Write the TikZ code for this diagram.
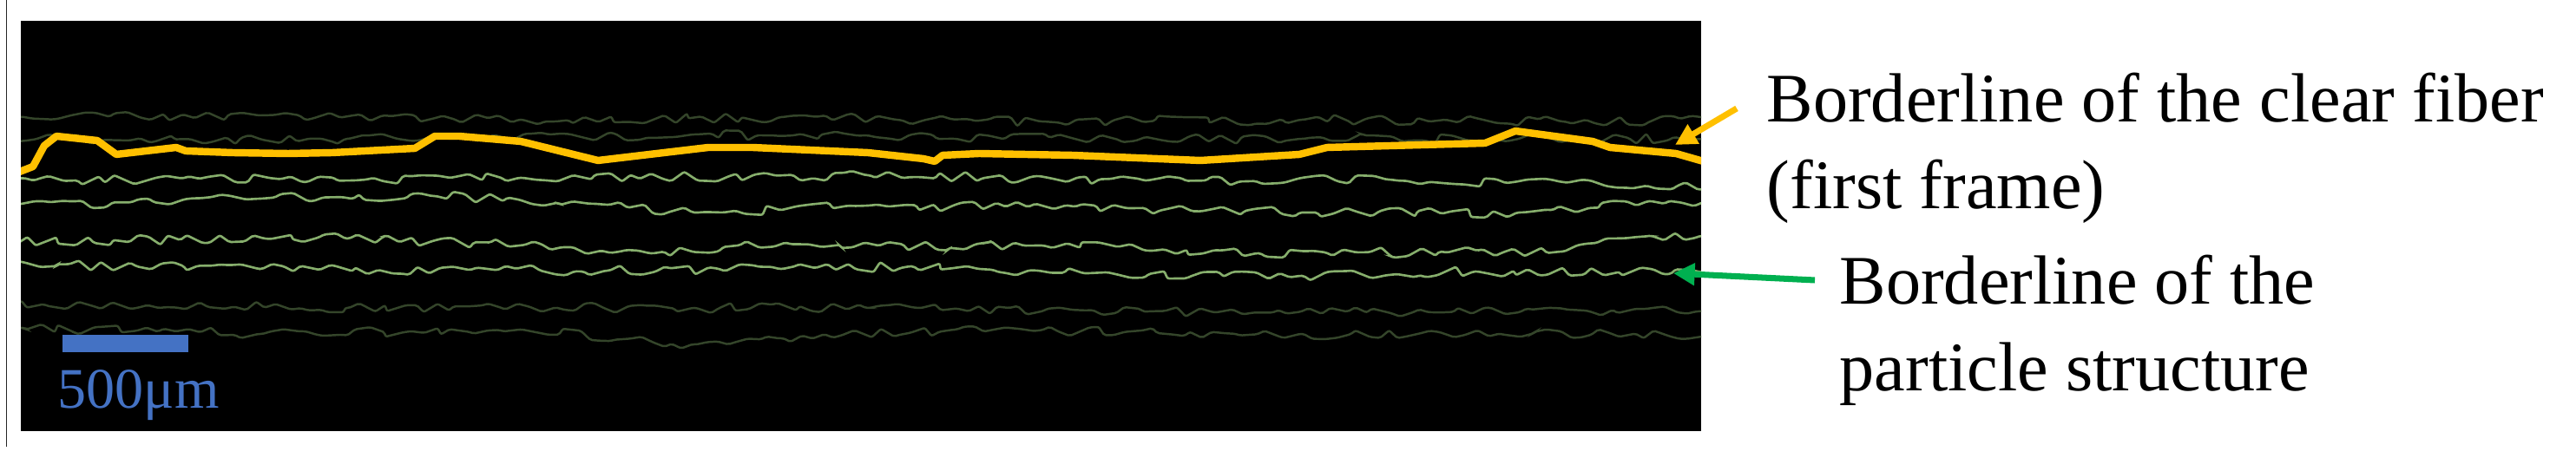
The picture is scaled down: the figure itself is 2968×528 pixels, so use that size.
\documentclass[tikz,border=0pt]{standalone}
\usepackage{fontspec}
\setmainfont{Liberation Serif}
\usetikzlibrary{arrows.meta,decorations.pathmorphing}
\definecolor{fibery}{HTML}{FFC000}
\definecolor{brightg}{HTML}{86AE6C}
\definecolor{dimg}{HTML}{34452A}
\definecolor{arrowg}{HTML}{00B050}
\definecolor{barblue}{HTML}{4472C4}
\tikzset{
  noisy/.style={decorate,decoration={random steps,segment length=3.5pt,amplitude=1.7pt},rounded corners=0.6pt},
  brightline/.style={noisy,draw=brightg,line width=0.75pt},
  dimline/.style={noisy,draw=dimg,line width=0.7pt},
  fiberline/.style={draw=fibery,line width=2.4pt,line join=round},
  callout/.style={line width=2pt,-{Triangle[length=7pt,width=7pt]}},
  label/.style={font=\fontsize{22.8pt}{28.45pt}\selectfont,anchor=base west,inner sep=0pt,align=left},
}
\begin{document}
\begin{tikzpicture}[x=0.01cm,y=-0.01cm]
\useasboundingbox (0,0) rectangle (2968,528);
\fill[white] (0,0) rectangle (2968,528);
\draw[black!85,line width=0.45pt] (7.6,0) -- (7.6,515);
\fill[black] (24,24) rectangle (1960,497);
\begin{scope}
\clip (24,24) rectangle (1960,497);
\pgfmathsetseed{11}
\path[dimline] (10,135) -- (300,133) -- (600,138) -- (900,135) -- (1200,140) -- (1500,138) -- (1800,140) -- (1975,138);
\pgfmathsetseed{23}
\path[dimline] (10,160) -- (400,160) -- (800,155) -- (1100,160) -- (1500,160) -- (1975,160);
\pgfmathsetseed{37}
\path[brightline] (10,208) -- (600,205) -- (1000,202) -- (1320,208) -- (1600,207) -- (1975,215);
\pgfmathsetseed{41}
\path[brightline] (10,238) -- (300,229) -- (500,226) -- (700,236) -- (800,245) -- (1000,237) -- (1300,240) -- (1500,245) -- (1750,245) -- (1900,232) -- (1975,233);
\pgfmathsetseed{53}
\path[brightline] (10,278) -- (400,275) -- (650,285) -- (750,292) -- (850,283) -- (1200,283) -- (1450,292) -- (1800,290) -- (1900,272) -- (1975,272);
\pgfmathsetseed{67}
\path[brightline] (10,305) -- (300,310) -- (700,312) -- (900,310) -- (1050,307) -- (1250,315) -- (1500,318) -- (1700,313) -- (1975,315);
\pgfmathsetseed{71}
\path[dimline] (10,350) -- (400,355) -- (800,355) -- (1000,355) -- (1400,360) -- (1975,358);
\pgfmathsetseed{89}
\path[dimline] (10,378) -- (300,385) -- (600,380) -- (800,397) -- (900,390) -- (1100,380) -- (1500,385) -- (1975,385);
\draw[fiberline] (20,199) -- (38,192) -- (51,168) -- (65,157) -- (112,162) -- (134,178) -- (203,170) -- (214,174) -- (268,176) -- (332,177) -- (383,176) -- (478,171) -- (501,157) -- (529,157) -- (600,163) -- (689,185) -- (816,170) -- (867,170) -- (1000,176) -- (1064,183) -- (1077,186) -- (1086,179) -- (1128,177) -- (1236,179) -- (1383,185) -- (1497,178) -- (1529,170) -- (1711,165) -- (1746,151) -- (1835,163) -- (1855,170) -- (1931,177) -- (1966,187);
\end{scope}
\fill[barblue] (72,386) rectangle (217,406);
\node[anchor=base west,inner sep=0pt,text=barblue,font=\fontsize{18.8pt}{22pt}\selectfont] (scale) at (66,471) {500μm};
\node[label] (fiber) at (2035,241) {Borderline of the clear fiber\\(first frame)};
\node[label] (particle) at (2119,451) {Borderline of the\\particle structure};
\coordinate (fibtail) at (2001,125);
\coordinate (fibtip) at (1930,167);
\coordinate (parttail) at (2091,323);
\coordinate (parttip) at (1928,315);
\draw[callout,fibery] (fibtail) -- (fibtip);
\draw[callout,arrowg] (parttail) -- (parttip);
\end{tikzpicture}
\end{document}
